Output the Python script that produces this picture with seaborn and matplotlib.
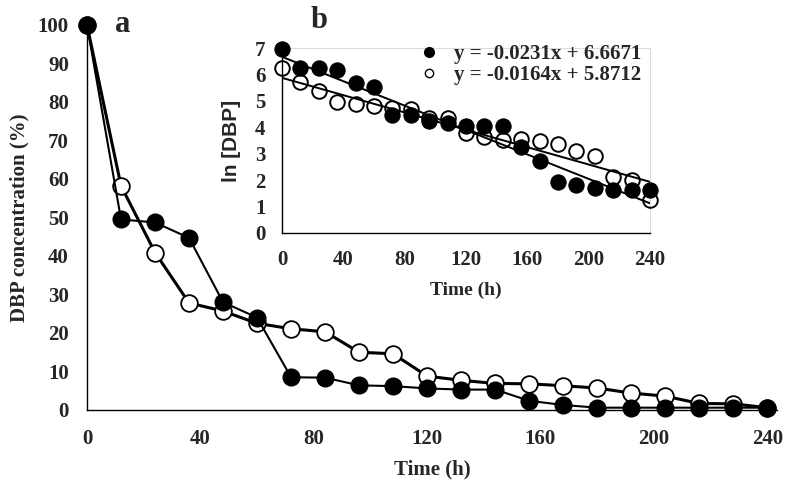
import numpy as np
import pandas as pd
import matplotlib
matplotlib.use("Agg")
import matplotlib.pyplot as plt
from matplotlib.lines import Line2D
import seaborn as sns

# sampling times (h)
time_h = [0, 12, 24, 36, 48, 60, 72, 84, 96, 108, 120, 132, 144, 156, 168, 180, 192, 204, 216, 228, 240]

# panel a: DBP concentration (%)
conc_filled = [100, 49.5, 48.7, 44.7, 28.0, 24.0, 8.5, 8.4, 6.4, 6.2, 5.6, 5.3, 5.3, 2.4, 1.3,
               0.6, 0.6, 0.6, 0.6, 0.6, 0.6]
conc_open = [100, 58.2, 40.9, 27.8, 25.7, 22.5, 21.1, 20.3, 15.0, 14.6, 8.8, 7.7, 6.9, 6.8, 6.3,
             5.7, 4.4, 3.6, 1.7, 1.6, 0.6]

# panel b: ln [DBP]
ln_filled = [6.96, 6.24, 6.24, 6.18, 5.67, 5.52, 4.48, 4.48, 4.22, 4.16, 4.06, 4.03, 4.03, 3.24,
             2.71, 1.92, 1.83, 1.70, 1.61, 1.64, 1.64]
ln_open = [6.24, 5.70, 5.36, 4.94, 4.89, 4.79, 4.73, 4.69, 4.35, 4.35, 3.78, 3.63, 3.53, 3.56,
           3.47, 3.37, 3.11, 2.93, 2.11, 2.02, 1.26]

# linear fits shown in the legend
fit_slopes = [-0.0231, -0.0164]
fit_intercepts = [6.6671, 5.8712]

main_xticks = [0, 40, 80, 120, 160, 200, 240]
main_yticks = list(range(0, 101, 10))
inset_yticks = list(range(0, 8))

sns.set_style("white")
plt.rcParams["font.family"] = ["Liberation Serif", "DejaVu Serif"]
plt.rcParams["font.weight"] = "bold"
plt.rcParams["axes.labelweight"] = "bold"

df = pd.DataFrame({"time": time_h, "filled": conc_filled, "open": conc_open,
                   "ln_filled": ln_filled, "ln_open": ln_open})

fig = plt.figure(figsize=(7.86, 4.82), dpi=100)
ax = fig.add_axes([0.1107, 0.1494, 0.878, 0.7988])

sns.lineplot(data=df, x="time", y="open", ax=ax, color="black", lw=2.2, marker="o",
             markersize=12, markerfacecolor="white", markeredgecolor="black",
             markeredgewidth=1.3, zorder=2, clip_on=False)
sns.lineplot(data=df, x="time", y="filled", ax=ax, color="black", lw=1.5, marker="o",
             markersize=12, markerfacecolor="black", markeredgecolor="black",
             markeredgewidth=1, zorder=3, clip_on=False)

ax.set_xlim(0, 243.5)
ax.set_ylim(0, 100)
ax.set_xticks(main_xticks)
ax.set_yticks(main_yticks)
ax.tick_params(length=0, labelsize=15)
ax.tick_params(axis="y", pad=13)
ax.tick_params(axis="x", pad=14)
for lab in ax.get_xticklabels() + ax.get_yticklabels():
    lab.set_fontweight("bold")
ax.set_xlabel("Time (h)", fontsize=15, fontweight="bold", labelpad=7)
ax.set_ylabel("DBP concentration (%)", fontsize=15, fontweight="bold", labelpad=6)
for side in ["top", "right"]:
    ax.spines[side].set_visible(False)
for side in ["left", "bottom"]:
    ax.spines[side].set_color("black")
    ax.spines[side].set_linewidth(1.0)
ax.text(0.052, 1.0, "a", transform=ax.transAxes, fontsize=22, fontweight="bold",
        ha="center", va="center")

# inset panel b
axi = fig.add_axes([0.3588, 0.5166, 0.4682, 0.3838])
sns.lineplot(data=df, x="time", y="ln_filled", ax=axi, color="black", lw=0, marker="o",
             markersize=11, markerfacecolor="black", markeredgecolor="black", zorder=3,
             clip_on=False)
sns.lineplot(data=df, x="time", y="ln_open", ax=axi, color="black", lw=0, marker="o",
             markersize=10.5, markerfacecolor="none", markeredgecolor="black",
             markeredgewidth=1.4, zorder=4, clip_on=False)

fit_x = np.array([time_h[0], time_h[-1]])
for m, b in zip(fit_slopes, fit_intercepts):
    sns.lineplot(x=fit_x, y=m * fit_x + b, ax=axi, color="black", lw=1.4, zorder=5)

axi.set_xlim(0, 240)
axi.set_ylim(0, 7)
axi.set_xticks(main_xticks)
axi.set_yticks(inset_yticks)
axi.tick_params(length=0, labelsize=15)
axi.tick_params(axis="y", pad=12)
axi.tick_params(axis="x", pad=12)
for lab in axi.get_xticklabels() + axi.get_yticklabels():
    lab.set_fontweight("bold")
axi.set_xlabel("Time (h)", fontsize=14, fontweight="bold", labelpad=9)
axi.set_ylabel("ln [DBP]", fontsize=15, fontweight="bold", labelpad=10,
               family=["Liberation Sans", "DejaVu Sans"])
for side in ["top", "right"]:
    axi.spines[side].set_color("#dcdcdc")
    axi.spines[side].set_linewidth(0.8)
for side in ["left", "bottom"]:
    axi.spines[side].set_color("black")
    axi.spines[side].set_linewidth(1.0)
axi.set_facecolor("none")

labels = [f"y = {m:.4f}x + {b:.4f}" for m, b in zip(fit_slopes, fit_intercepts)]
handles = [
    Line2D([], [], ls="none", marker="o", markersize=7, color="black"),
    Line2D([], [], ls="none", marker="o", markersize=6, markerfacecolor="white",
           markeredgecolor="black", markeredgewidth=1.0),
]
leg = axi.legend(handles, labels, loc="upper right", frameon=False, fontsize=15,
                 handlelength=0.6, handletextpad=0.9, borderaxespad=0.0,
                 labelspacing=0.05, bbox_to_anchor=(1.0, 1.065))
for t in leg.get_texts():
    t.set_fontweight("bold")
axi.text(0.1, 1.15, "b", transform=axi.transAxes, fontsize=22, fontweight="bold",
         ha="center", va="center")

fig.savefig("out.png", dpi=100)
